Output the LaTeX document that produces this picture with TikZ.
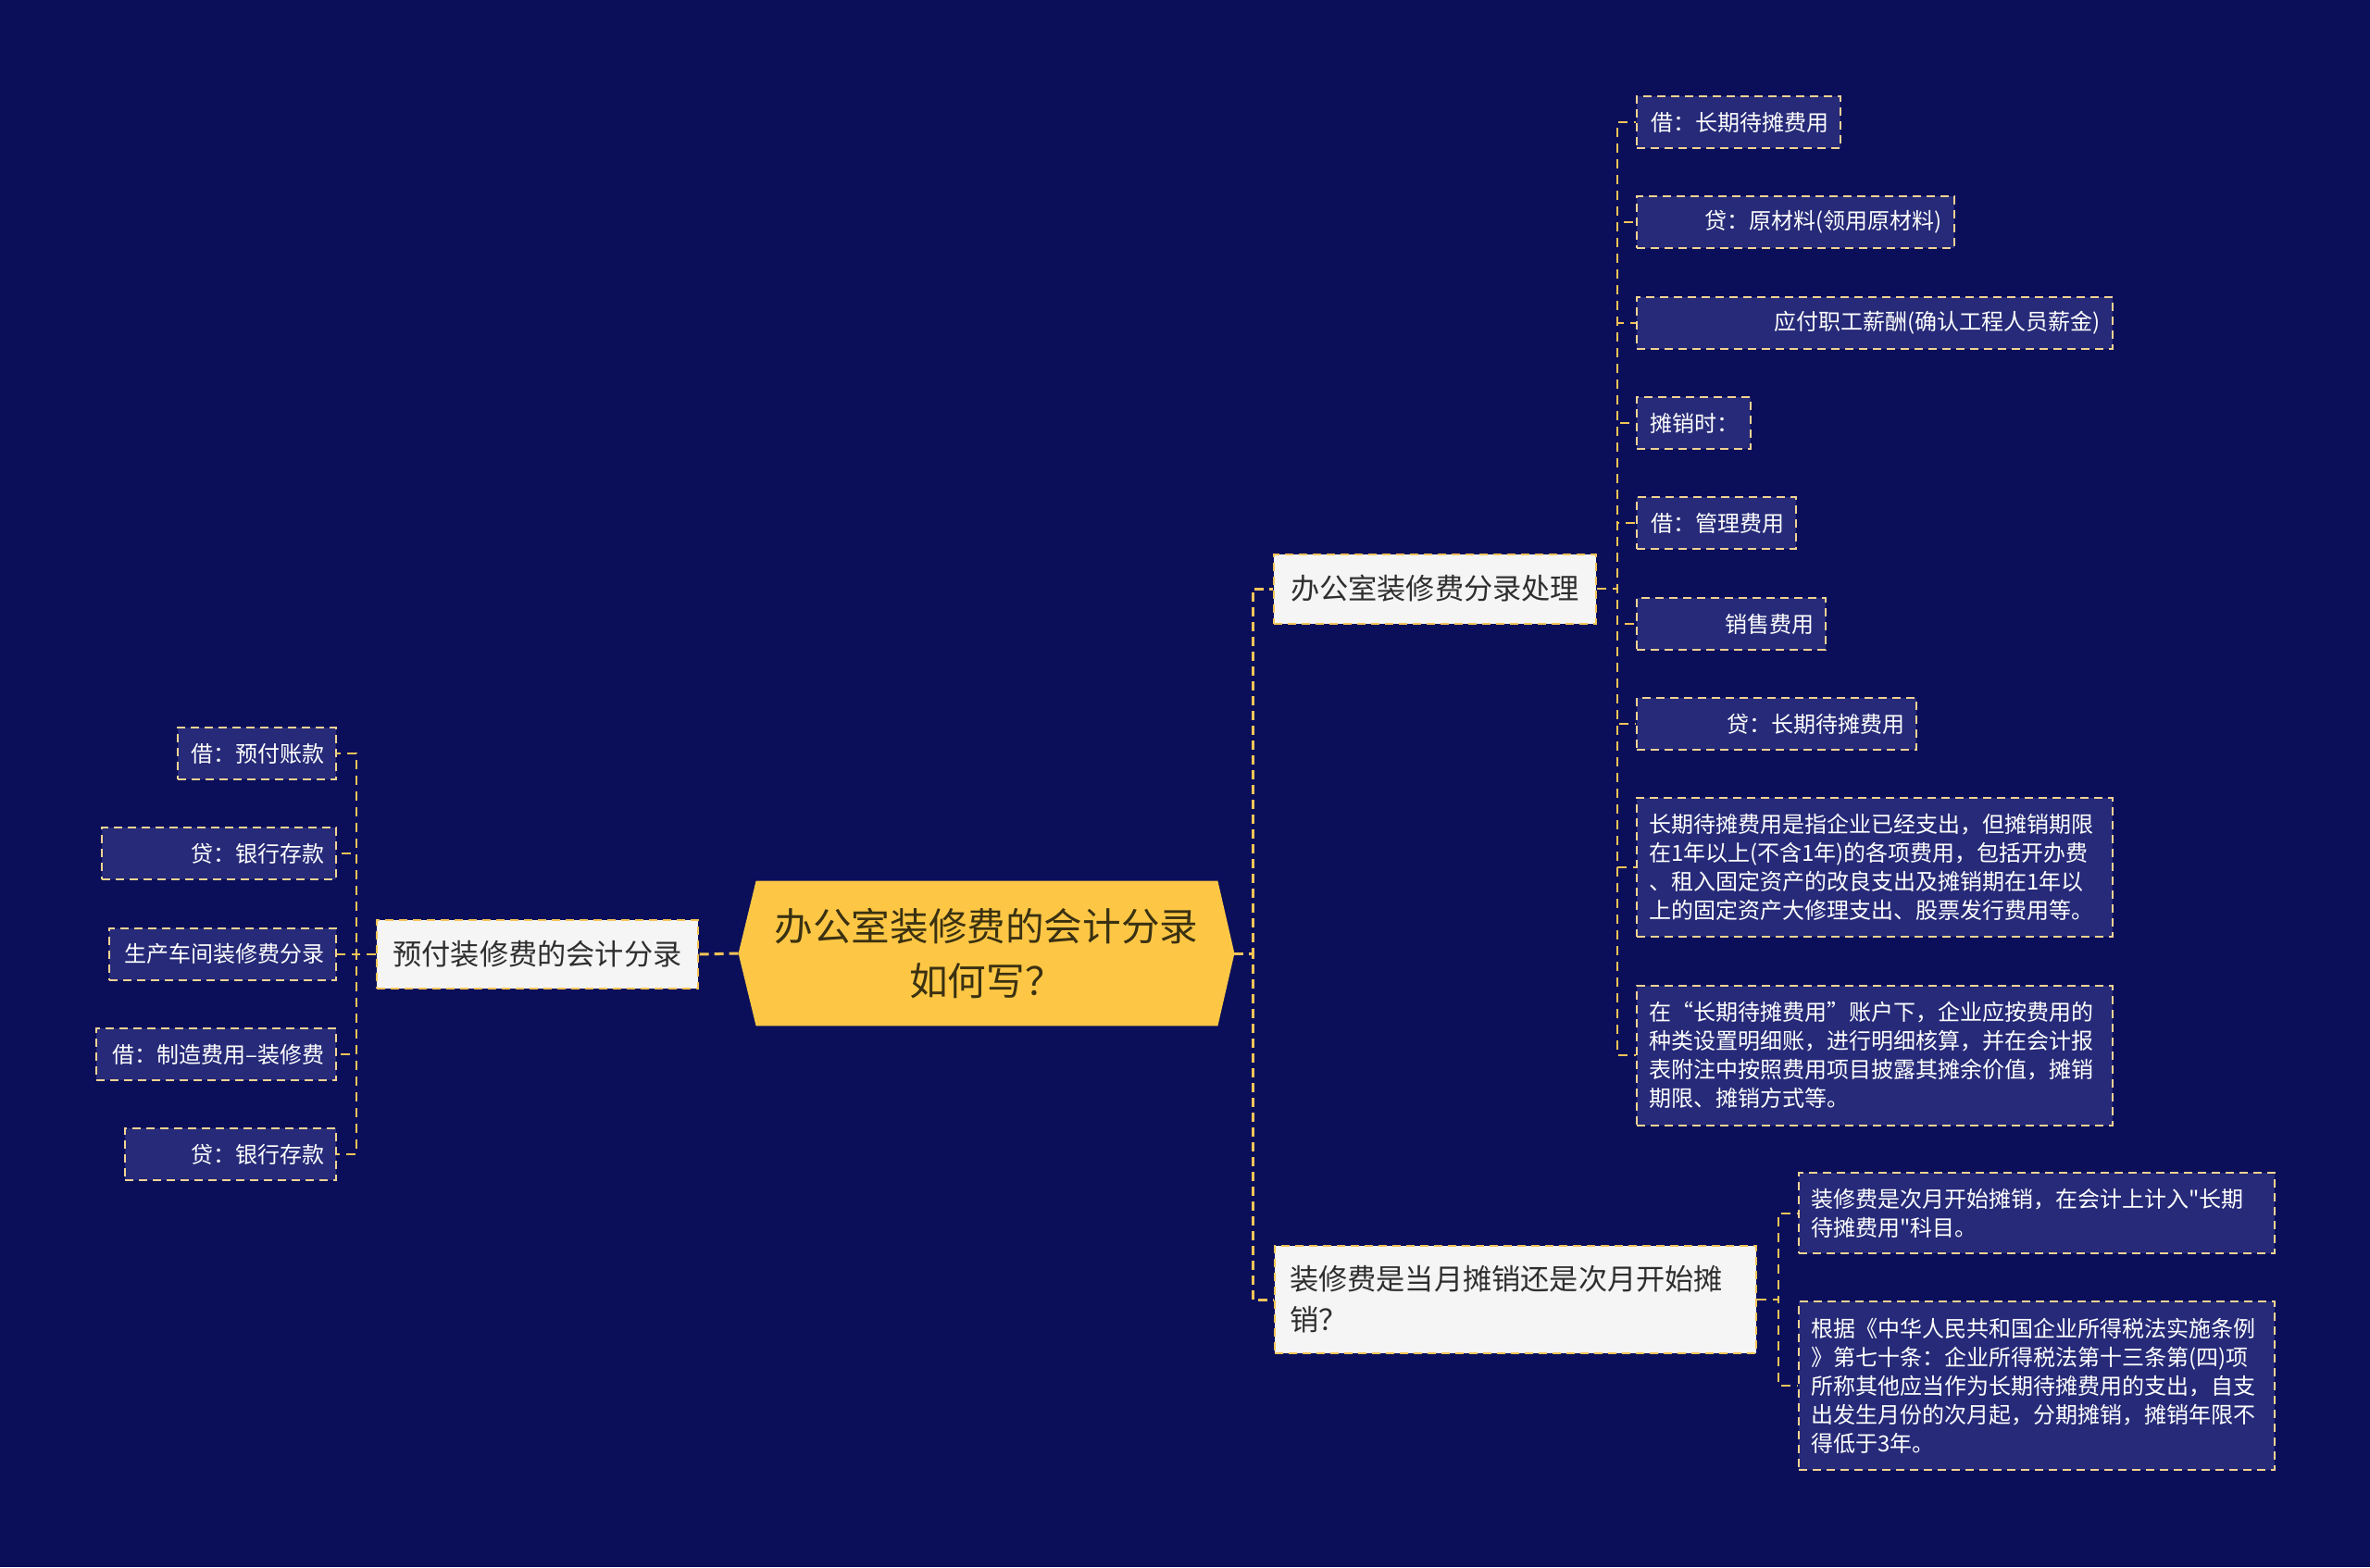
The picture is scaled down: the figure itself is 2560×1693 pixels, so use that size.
\documentclass[tikz,border=0pt]{standalone}
\usepackage{fontspec}
\setmainfont{Noto Sans CJK SC}[Ligatures=TeXOff]
\definecolor{bg}{HTML}{0B0F5A}
\definecolor{leaffill}{HTML}{262A78}
\definecolor{leafline}{HTML}{F2D392}
\definecolor{connc}{HTML}{F3C457}
\definecolor{mainfill}{HTML}{FDC745}
\definecolor{brfill}{HTML}{F5F5F5}
\definecolor{brtext}{HTML}{2E2E2E}
\definecolor{ctext}{HTML}{3A3112}
\pgfdeclarelayer{background}
\pgfsetlayers{background,main}
\begin{document}
\begin{tikzpicture}[x=0.5pt,y=-0.5pt,
  leaf/.style={draw=leafline, fill=leaffill, line width=1pt, dash pattern=on 4.5pt off 3pt,
    text=white, font=\fontsize{12pt}{15.5pt}\selectfont, inner xsep=6.5pt, inner ysep=0pt},
  leafR/.style={leaf, align=right, text width=#1, minimum height=28pt},
  leafP/.style={leaf, align=left, text width=244pt, minimum height=#1},
  brnode/.style={draw=connc, fill=brfill, line width=1pt, dash pattern=on 4.5pt off 3pt,
    text=brtext, font=\fontsize{15.6pt}{22pt}\selectfont, inner sep=0pt},
  mainconn/.style={draw=connc, line width=1.5pt, dash pattern=on 5pt off 3pt},
  subconn/.style={draw=connc, line width=1pt, dash pattern=on 5pt off 3.5pt}]
\begin{pgfonlayer}{background}
\fill[bg] (0,0) rectangle (2560,1693);
\end{pgfonlayer}
\useasboundingbox (0,0) rectangle (2560,1693);

% centre
\node[minimum width=267.5pt, minimum height=78pt, inner sep=0pt, align=center,
  text=ctext, font=\fontsize{20.8pt}{29.5pt}\selectfont] (c) at (1065.5,1030)
  {办公室装修费的会计分录\\如何写？};
\begin{pgfonlayer}{background}
\fill[mainfill] (c.west) -- ([xshift=9.5pt]c.north west) -- ([xshift=-9pt]c.north east)
  -- (c.east) -- ([xshift=-9pt]c.south east) -- ([xshift=9.5pt]c.south west) -- cycle;
\end{pgfonlayer}

% branches
\node[brnode, minimum width=173.5pt, minimum height=37pt, anchor=east] (b0) at (755,1031) {预付装修费的会计分录};
\node[brnode, minimum width=174pt, minimum height=37.5pt, anchor=west] (b1) at (1375,636) {办公室装修费分录处理};
\node[brnode, inner xsep=8pt, text width=244pt, align=left, minimum height=58pt, anchor=west] (b2) at (1376,1404)
  {装修费是当月摊销还是次月开始摊\\销？};

% left leaves
\node[leafR=72.5pt, anchor=east] (ll1) at (364,814) {借：预付账款};
\node[leafR=113.5pt, anchor=east] (ll2) at (364,922) {贷：银行存款};
\node[leafR=109.5pt, anchor=east] (ll3) at (364,1030.5) {生产车间装修费分录};
\node[leafR=116.5pt, anchor=east] (ll4) at (364,1139) {借：制造费用–装修费};
\node[leafR=101pt, anchor=east] (ll5) at (364,1247) {贷：银行存款};

% right leaves of b1
\node[leafR=97pt, anchor=west] (r1) at (1767,132) {借：长期待摊费用};
\node[leafR=158.5pt, anchor=west] (r2) at (1767,240) {贷：原材料(领用原材料)};
\node[leafR=244pt, anchor=west] (r3) at (1767,349) {应付职工薪酬(确认工程人员薪金)};
\node[leafR=48.5pt, anchor=west] (r4) at (1767,457) {摊销时：};
\node[leafR=73pt, anchor=west] (r5) at (1767,565) {借：管理费用};
\node[leafR=89pt, anchor=west] (r6) at (1767,674) {销售费用};
\node[leafR=138pt, anchor=west] (r7) at (1767,782) {贷：长期待摊费用};
\node[leafP=75pt, anchor=west] (r8) at (1767,937)
  {长期待摊费用是指企业已经支出，但摊销期限\\在1年以上(不含1年)的各项费用，包括开办费\\、租入固定资产的改良支出及摊销期在1年以\\上的固定资产大修理支出、股票发行费用等。};
\node[leafP=75.5pt, anchor=west] (r9) at (1767,1140)
  {在“长期待摊费用”账户下，企业应按费用的\\种类设置明细账，进行明细核算，并在会计报\\表附注中按照费用项目披露其摊余价值，摊销\\期限、摊销方式等。};

% right leaves of b2
\node[leafP=43.5pt, anchor=west] (s1) at (1942,1310.5)
  {装修费是次月开始摊销，在会计上计入"长期\\待摊费用"科目。};
\node[leafP=91pt, anchor=west] (s2) at (1942,1497)
  {根据《中华人民共和国企业所得税法实施条例\\》第七十条：企业所得税法第十三条第(四)项\\所称其他应当作为长期待摊费用的支出，自支\\出发生月份的次月起，分期摊销，摊销年限不\\得低于3年。};

% connectors
\draw[mainconn] (c.west) -- (b0.east);
\draw[mainconn] (c.east) -- ++(20,0) |- (b1.west);
\draw[mainconn] (c.east) -- ++(20,0) |- (b2.west);
\foreach \n in {ll1,ll2,ll3,ll4,ll5}
  \draw[subconn] (b0.west) -- ++(-21,0) |- (\n.east);
\foreach \n in {r1,r2,r3,r4,r5,r6,r7,r8,r9}
  \draw[subconn] (b1.east) -- ++(22,0) |- (\n.west);
\foreach \n in {s1,s2}
  \draw[subconn] (b2.east) -- ++(23,0) |- (\n.west);
\end{tikzpicture}
\end{document}
